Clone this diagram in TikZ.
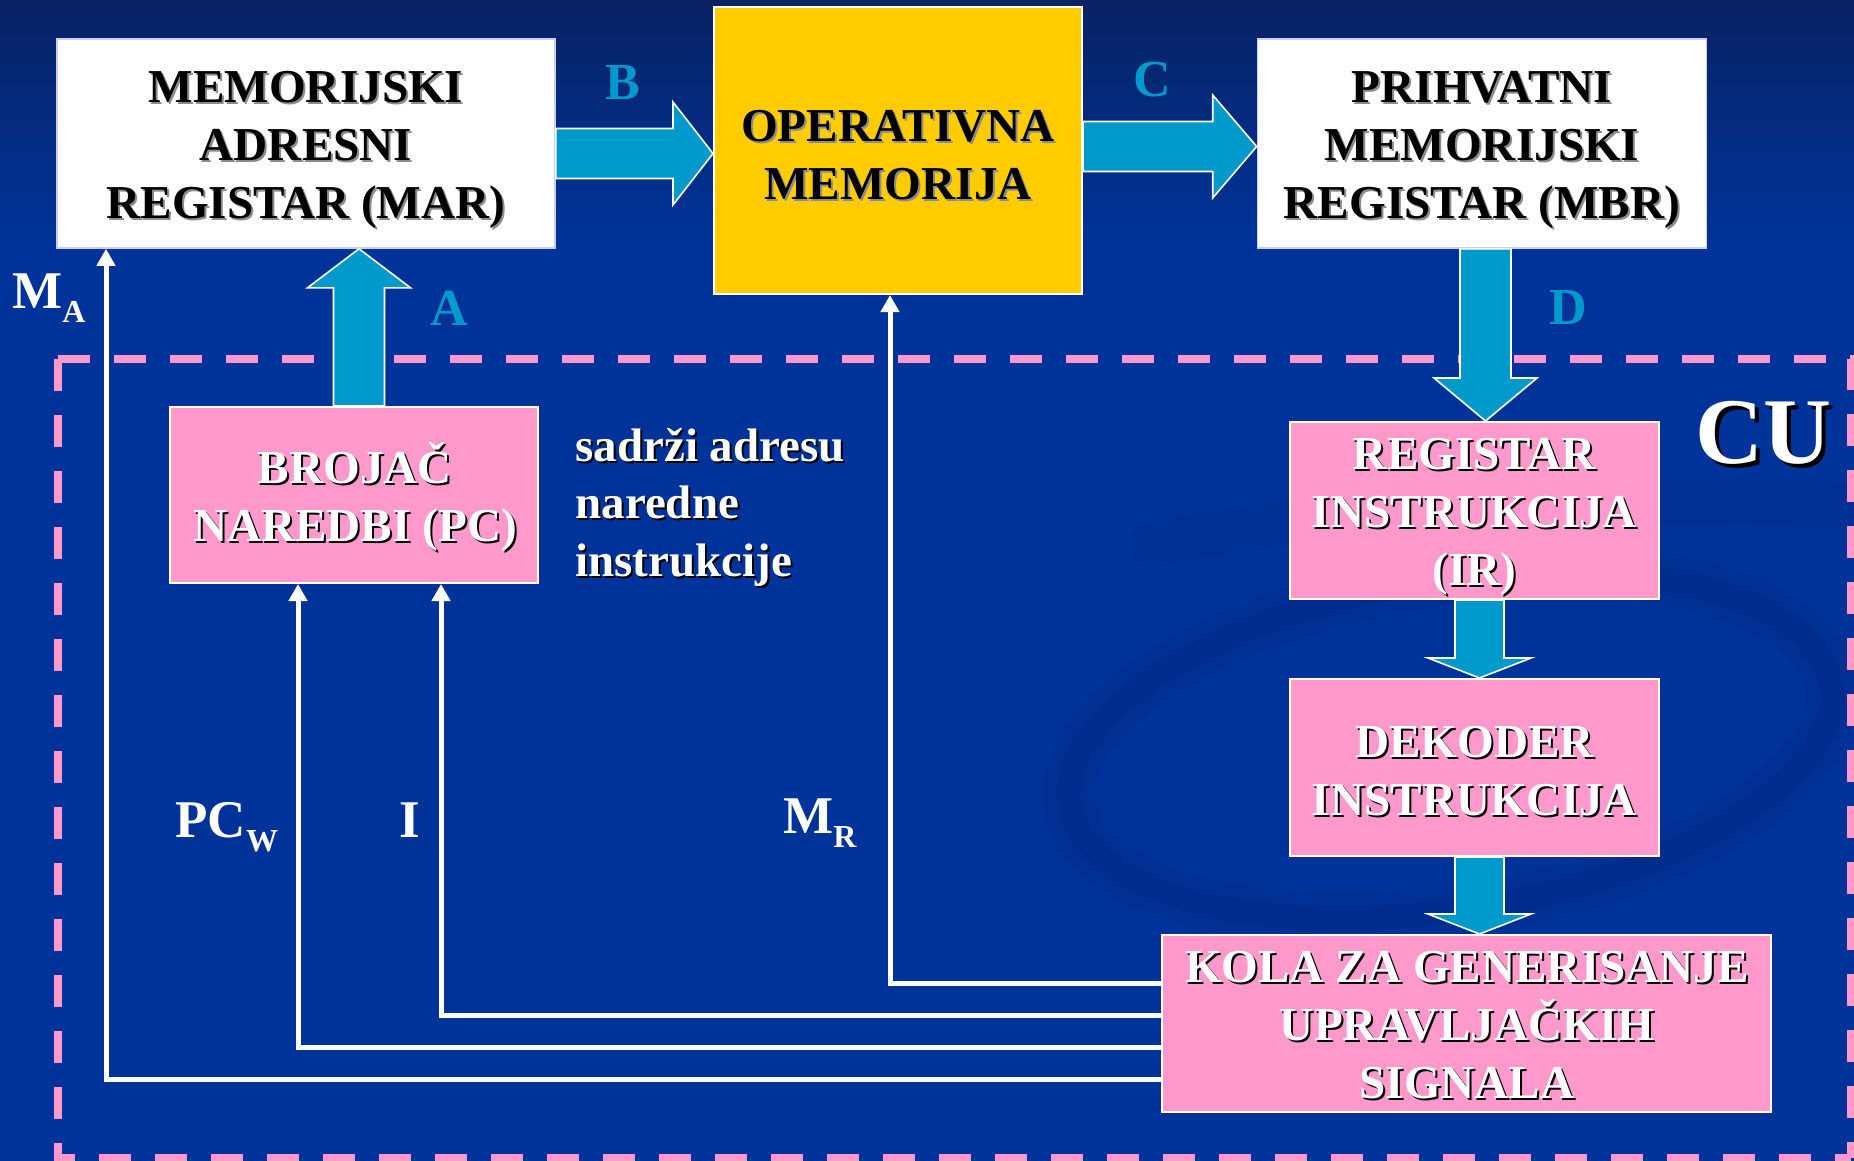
\documentclass[tikz,border=0pt]{standalone}
\usepackage{fontspec}
\setmainfont{Liberation Serif}
\usetikzlibrary{arrows.meta,calc}

\definecolor{bgmain}{RGB}{0,51,153}
\definecolor{bgtop}{RGB}{8,34,100}
\definecolor{swirl}{RGB}{0,30,105}
\definecolor{cuPink}{RGB}{255,153,204}
\definecolor{memYellow}{RGB}{255,204,0}
\definecolor{busCyan}{RGB}{0,153,204}
\definecolor{lineShadow}{RGB}{140,160,215}
\definecolor{greyShadow}{RGB}{140,140,140}
\definecolor{boxEdge}{RGB}{200,208,235}

% horizontal fat bus arrow: start, tip, shaft half width, head half width, head length
\newcommand\fatH[5]{%
  \draw[fatarrow] let \p1=(#1), \p2=(#2) in
    ({\x1},{\y2+#3}) -- ({\x2-#5},{\y2+#3}) -- ({\x2-#5},{\y2+#4}) -- ({\x2},{\y2})
    -- ({\x2-#5},{\y2-#4}) -- ({\x2-#5},{\y2-#3}) -- ({\x1},{\y2-#3}) -- cycle;}
% vertical fat bus arrow (negative head length points downwards)
\newcommand\fatV[5]{%
  \draw[fatarrow] let \p1=(#1), \p2=(#2) in
    ({\x2+#3},{\y1}) -- ({\x2+#3},{\y2-(#5)}) -- ({\x2+#4},{\y2-(#5)}) -- ({\x2},{\y2})
    -- ({\x2-#4},{\y2-(#5)}) -- ({\x2-#3},{\y2-(#5)}) -- ({\x2-#3},{\y1}) -- cycle;}
% text with a drop shadow: name, position, colour, shadow colour, style, text
\newcommand\shadowtext[6]{%
  \node[#5, text=#4] (#1-s) at ([shift={(1pt,-1pt)}]#2) {#6};
  \node[#5, text=#3] (#1) at (#2) {#6};}

\begin{document}
\begin{tikzpicture}[x=0.5pt,y=-0.5pt,
  whitebox/.style={fill=white, draw=boxEdge, line width=0.8pt, inner sep=0pt},
  yellowbox/.style={fill=memYellow, draw=white, line width=1pt, inner sep=0pt},
  pinkbox/.style={fill=cuPink, draw=white, line width=1pt, inner sep=0pt},
  boxtext/.style={font=\fontsize{23.6}{29}\selectfont\bfseries, align=center, inner sep=0pt},
  notetext/.style={font=\fontsize{23.5}{28}\selectfont\bfseries, inner sep=0pt, anchor=base west},
  fatarrow/.style={fill=busCyan, draw=white, line width=0.8pt, line join=miter},
  signal/.style={draw=white, line width=2.5pt, line join=miter, -{Triangle[width=9pt,length=8.5pt]}},
  sigshadow/.style={draw=lineShadow, line width=2.5pt, line join=miter},
  cuframe/.style={draw=cuPink, line width=4pt, dash pattern=on 16pt off 12pt},
  buslabel/.style={text=busCyan, font=\fontsize{26}{30}\selectfont\bfseries, inner sep=0pt, anchor=base},
  siglabel/.style={text=white, font=\fontsize{26.5}{30}\selectfont\bfseries, inner sep=0pt, anchor=base west},
  swirlband/.style={draw=swirl, line cap=round}
]
\useasboundingbox (0,0) rectangle (1854,1161);

% background with its faint swirl
\fill[bgmain] (0,0) rectangle (1854,1161);
\shade[top color=bgtop, bottom color=bgmain] (0,0) rectangle (1854,240);
\begin{scope}[rotate around={9:(1450,745)}]
  \draw[swirlband, line width=26pt, opacity=0.10] (1450,745) ellipse [x radius=385, y radius=165];
  \draw[swirlband, line width=12pt, opacity=0.14] (1450,745) ellipse [x radius=385, y radius=165];
\end{scope}
\draw[swirlband, line width=22pt, opacity=0.10] (1150,545) .. controls (1400,495) and (1650,500) .. (1854,505);

% control unit frame
\draw[cuframe] (58,359) -- (1851,359) -- (1851,1158);
\draw[cuframe] (58,359) -- (58,1158) -- (1851,1158);

% blocks
\node[whitebox, minimum width=249pt, minimum height=104.5pt] (mar) at (306,143.5) {};
\node[yellowbox, minimum width=184pt, minimum height=143.5pt] (op) at (898,150.5) {};
\node[whitebox, minimum width=224.5pt, minimum height=104.5pt] (mbr) at (1482,143.5) {};
\node[pinkbox, minimum width=184pt, minimum height=88pt] (pc) at (354,495) {};
\node[pinkbox, minimum width=184.5pt, minimum height=88.5pt] (ir) at (1474.5,510.5) {};
\node[pinkbox, minimum width=184.5pt, minimum height=88.5pt] (dek) at (1474.5,767.5) {};
\node[pinkbox, minimum width=304.5pt, minimum height=88.5pt] (kola) at (1466.5,1023.5) {};

% control signals
\begin{scope}[shift={(-1.2,1.5)}]
  \draw[sigshadow] ([yshift=20.25pt]kola.west) -| ([xshift=-4pt,yshift=-9pt]op.south);
  \draw[sigshadow] ([yshift=4.25pt]kola.west) -| ([xshift=43.5pt,yshift=-9pt]pc.south);
  \draw[sigshadow] ([yshift=-11.75pt]kola.west) -| ([xshift=-28pt,yshift=-9pt]pc.south);
  \draw[sigshadow] ([yshift=-27.75pt]kola.west) -| ([xshift=-100pt,yshift=-9pt]mar.south);
\end{scope}
\draw[signal] ([yshift=20.25pt]kola.west) -| ([xshift=-4pt]op.south);
\draw[signal] ([yshift=4.25pt]kola.west) -| ([xshift=43.5pt]pc.south);
\draw[signal] ([yshift=-11.75pt]kola.west) -| ([xshift=-28pt]pc.south);
\draw[signal] ([yshift=-27.75pt]kola.west) -| ([xshift=-100pt]mar.south);

% data paths
\fatH{mar.east}{[yshift=-1.5pt]op.west}{12.5pt}{25.75pt}{20pt}
\fatH{op.east}{[yshift=-1.5pt]mbr.west}{12.5pt}{25.75pt}{22pt}
\fatV{pc.north}{[xshift=2.5pt]pc.north |- mar.south}{12.75pt}{25.75pt}{19.5pt}
\fatV{mbr.south}{[xshift=1.75pt]mbr.south |- ir.north}{12.75pt}{25.75pt}{-21.5pt}
\fatV{ir.south}{[xshift=2.5pt]ir.south |- dek.north}{12.25pt}{25.75pt}{-10pt}
\fatV{dek.south}{[xshift=2.5pt]dek.south |- kola.north}{12.25pt}{25.75pt}{-10pt}

% block captions
\shadowtext{marT}{306,149.5}{black}{greyShadow}{boxtext}{MEMORIJSKI\\ADRESNI\\REGISTAR (MAR)}
\shadowtext{opT}{898,155.5}{black}{greyShadow}{boxtext}{OPERATIVNA\\MEMORIJA}
\shadowtext{mbrT}{1482,149.5}{black}{greyShadow}{boxtext}{PRIHVATNI\\MEMORIJSKI\\REGISTAR (MBR)}
\shadowtext{pcT}{355,497}{white}{black}{boxtext}{BROJAČ\\NAREDBI (PC)}
\shadowtext{irT}{1474.5,517}{white}{black}{boxtext}{REGISTAR\\INSTRUKCIJA\\(IR)}
\shadowtext{dekT}{1474.5,771}{white}{black}{boxtext}{DEKODER\\INSTRUKCIJA}
\shadowtext{kolaT}{1467,1025.5}{white}{black}{boxtext}{KOLA ZA GENERISANJE\\UPRAVLJAČKIH\\SIGNALA}

% note beside the program counter
\shadowtext{note1}{575,461}{white}{black}{notetext}{sadrži adresu}
\shadowtext{note2}{575,518}{white}{black}{notetext}{naredne}
\shadowtext{note3}{575,576}{white}{black}{notetext}{instrukcije}

% control unit label (shadow set inside the same node)
\node[text=white, font=\fontsize{47}{50}\selectfont\bfseries, inner sep=0pt, anchor=base] (cu) at (1763,463)
  {\makebox[0pt][l]{\kern2pt\raisebox{-2pt}{\textcolor{black}{CU}}}CU};

% bus labels
\node[buslabel] (busA) at (449,325) {A};
\node[buslabel] (busB) at (623,100) {B};
\node[buslabel] (busC) at (1152.5,97) {C};
\node[buslabel] (busD) at (1568.5,324) {D};

% signal labels
\node[siglabel] (sigMA) at (12,308) {M\raisebox{-7pt}{\fontsize{16}{16}\selectfont A}};
\node[siglabel] (sigPC) at (175,837) {PC\raisebox{-7pt}{\fontsize{16}{16}\selectfont W}};
\node[siglabel] (sigI) at (399,837) {I};
\node[siglabel] (sigMR) at (783,833) {M\raisebox{-7pt}{\fontsize{16}{16}\selectfont R}};
\end{tikzpicture}
\end{document}
